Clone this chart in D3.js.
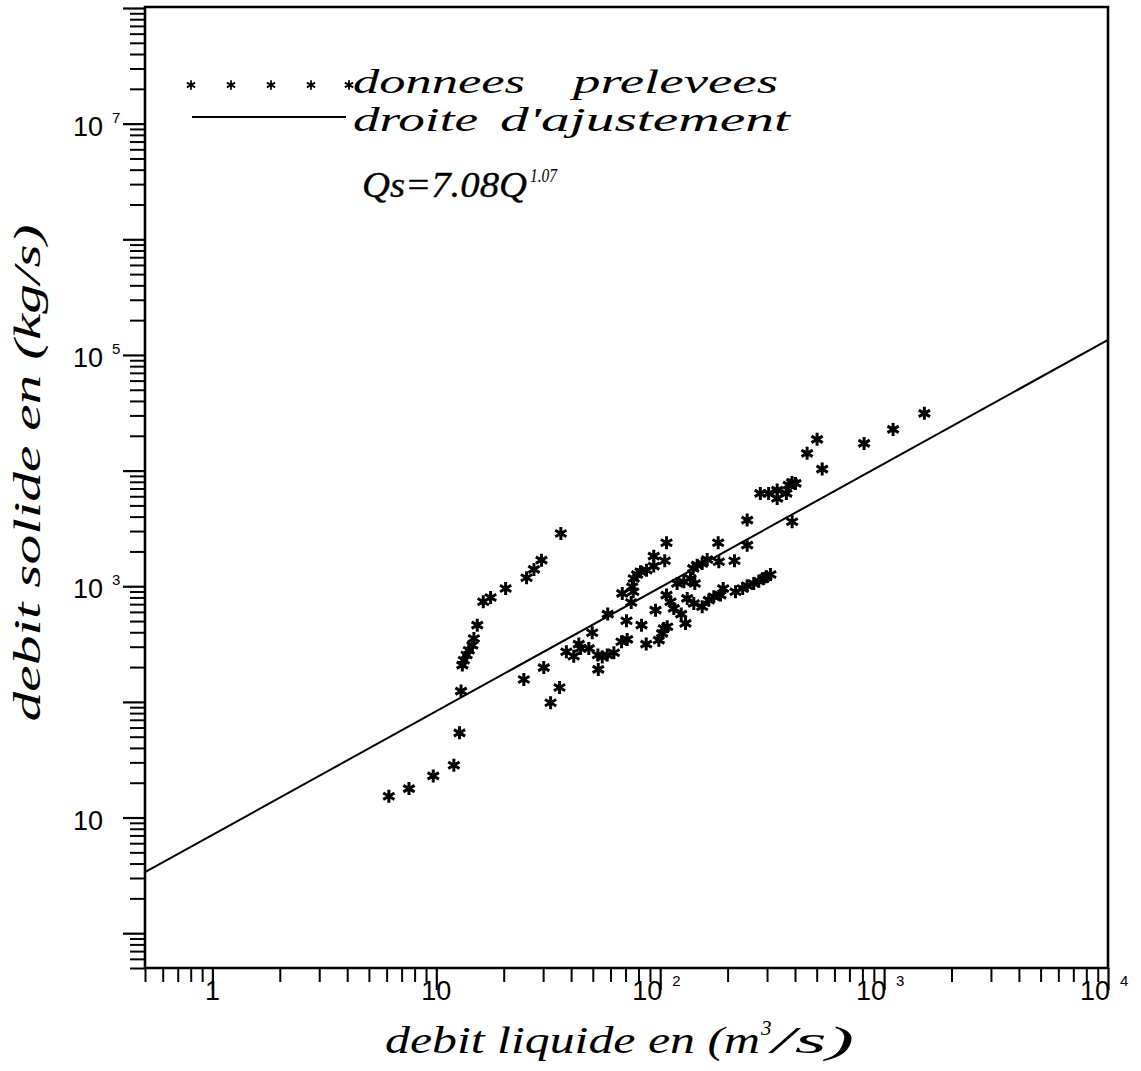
<!DOCTYPE html>
<html>
<head>
<meta charset="utf-8">
<script src="https://cdn.jsdelivr.net/npm/d3@7"></script>
<style>
  html, body { margin: 0; padding: 0; background: #fff; }
  svg { display: block; }
</style>
</head>
<body>
<svg id="chart" width="1141" height="1071"></svg>
<script>
// Débit liquide Q (m3/s) des prélèvements
const debitLiquide = [
  6.14, 7.55, 9.69, 11.98, 12.7, 12.9,
  13.07, 13.28, 13.66, 13.98, 14.48, 14.72, 15.24, 16.21, 17.48, 20.4, 25.3, 27.3, 29.5, 36.0,
  24.6, 30.2, 32.4, 35.5, 38.1, 41.1, 43.3, 44.1, 48.0, 49.7, 52.7, 52.9, 55.1, 58.0, 62.1, 58.3,
  67.2, 71.2, 70.7, 67.7, 74.2, 75.8, 75.0, 76.2, 78.9, 81.7, 86.9, 93.6, 93.6, 104.8, 106.7,
  82.5, 86.6, 95.3, 98.6, 102, 103.8, 107.5, 106.7, 111.2, 115, 119, 124.1, 129.7, 132, 136.6,
  140.4, 142.7, 146.3, 154, 162.1, 182.7, 181.5, 214.7, 141.3, 154, 164.8, 173.5, 185.9, 191.1,
  216.9, 233.5, 244.6, 261.7, 275.5, 290, 298, 310.7, 244.6, 244.6, 388.4, 127.5,
  1513, 1097, 814, 502, 453, 529, 388, 402, 375, 366, 333, 333, 305, 280
];
// Débit solide Qs (kg/s) correspondant
const debitSolide = [
  15.3, 17.8, 22.9, 28.3, 54.0, 124,
  208, 229, 254, 280, 309, 353, 461, 734, 800, 957, 1185, 1398, 1682, 2862,
  156, 198, 98.2, 133, 271, 248, 316, 290, 290, 396, 254, 191, 245, 254, 266, 574,
  331, 347, 503, 867, 724, 896, 990, 1168, 1265, 1335, 1378, 1493, 1821, 1662, 2378,
  461, 316, 621, 342, 391, 431, 446, 838, 734, 643, 1057, 574, 477, 785, 1168,
  1426, 1057, 1522, 1574, 1705, 1629, 2378, 1662, 710, 665, 758, 811, 838, 957,
  896, 957, 1010, 1057, 1107, 1168, 1210, 1265, 2267, 3731, 3614, 1094,
  31250, 22720, 17190, 18620, 14090, 10300, 7904, 7749, 7491, 6350, 6781, 5748, 6350, 6350
];

// Droite d'ajustement Qs = a * Q^b
const ajustA = 7.08;
const ajustB = 1.07;

// Étiquettes des graduations principales (mantisse, exposant)
const xLabelValues = [1, 10, 100, 1000, 10000];
const xLabelBases  = ["1", "10", "10", "10", "10"];
const xLabelExps   = ["", "", "2", "3", "4"];
const yLabelValues = [10, 1000, 100000, 10000000];
const yLabelBases  = ["10", "10", "10", "10"];
const yLabelExps   = ["", "3", "5", "7"];

const xDomain = [0.5, 1e4];
const yDomain = [0.5, 1e8];

const legendItems = ["donnees", "prelevees", "droite", "d'ajustement"];

const svg = d3.select("#chart");
const plot = { left: 145, right: 1108, top: 7, bottom: 968 };

const x = d3.scaleLog().domain(xDomain).range([plot.left, plot.right]);
const y = d3.scaleLog().domain(yDomain).range([plot.bottom, plot.top + 1]);

const isMajor = v => Math.abs(Math.log10(v) - Math.round(Math.log10(v))) < 1e-9;

const serif = "'Liberation Serif', 'Times New Roman', serif";
const sans = "'Liberation Sans', Arial, sans-serif";

// Graduations de l'axe horizontal
const xTicks = x.ticks();
svg.append("g")
  .attr("transform", `translate(0,${plot.bottom})`)
  .call(d3.axisBottom(x).tickValues(xTicks.filter(v => !isMajor(v))).tickSize(14).tickFormat(""))
  .call(g => g.select(".domain").remove())
  .call(g => g.selectAll("line").attr("stroke", "#000").attr("stroke-width", 2));
svg.append("g")
  .attr("transform", `translate(0,${plot.bottom})`)
  .call(d3.axisBottom(x).tickValues(xTicks.filter(isMajor)).tickSize(22).tickFormat(""))
  .call(g => g.select(".domain").remove())
  .call(g => g.selectAll("line").attr("stroke", "#000").attr("stroke-width", 2.2));

// Graduations de l'axe vertical
const yTicks = y.ticks();
svg.append("g")
  .attr("transform", `translate(${plot.left},0)`)
  .call(d3.axisLeft(y).tickValues(yTicks.filter(v => !isMajor(v))).tickSize(15).tickFormat(""))
  .call(g => g.select(".domain").remove())
  .call(g => g.selectAll("line").attr("stroke", "#000").attr("stroke-width", 2));
svg.append("g")
  .attr("transform", `translate(${plot.left},0)`)
  .call(d3.axisLeft(y).tickValues(yTicks.filter(isMajor)).tickSize(22).tickFormat(""))
  .call(g => g.select(".domain").remove())
  .call(g => g.selectAll("line").attr("stroke", "#000").attr("stroke-width", 2.2));

// Cadre
svg.append("path")
  .attr("d", `M${plot.left},${plot.top}H${plot.right}V${plot.bottom}H${plot.left}Z`)
  .attr("fill", "none")
  .attr("stroke", "#000")
  .attr("stroke-width", 2.6);

// Étiquettes des puissances de dix
const xl = svg.append("g").attr("font-family", sans).attr("fill", "#000");
xLabelValues.forEach((v, i) => {
  const px = x(v);
  if (xLabelExps[i] === "") {
    xl.append("text").attr("x", px).attr("y", 1000)
      .attr("text-anchor", "middle").attr("font-size", 27).text(xLabelBases[i]);
  } else {
    xl.append("text").attr("x", px + 2).attr("y", 1000)
      .attr("text-anchor", "end").attr("font-size", 27).text(xLabelBases[i]);
    xl.append("text").attr("x", px + 12).attr("y", 986)
      .attr("text-anchor", "start").attr("font-size", 15).text(xLabelExps[i]);
  }
});

const yl = svg.append("g").attr("font-family", sans).attr("fill", "#000");
yLabelValues.forEach((v, i) => {
  const py = y(v);
  yl.append("text").attr("x", 103).attr("y", py + 12)
    .attr("text-anchor", "end").attr("font-size", 27).text(yLabelBases[i]);
  if (yLabelExps[i] !== "") {
    yl.append("text").attr("x", 112).attr("y", py - 1)
      .attr("text-anchor", "start").attr("font-size", 15).text(yLabelExps[i]);
  }
});

// Droite d'ajustement
const fitLine = d3.line().x(d => x(d)).y(d => y(ajustA * Math.pow(d, ajustB)));
svg.append("path")
  .attr("d", fitLine(xDomain))
  .attr("fill", "none")
  .attr("stroke", "#000")
  .attr("stroke-width", 2);

// Symbole astérisque à six branches
function asterisk(r) {
  const p = d3.path();
  [90, 30, 150].forEach(a => {
    const t = a * Math.PI / 180;
    p.moveTo(-r * Math.cos(t), -r * Math.sin(t));
    p.lineTo(r * Math.cos(t), r * Math.sin(t));
  });
  return p.toString();
}

const points = debitLiquide.map((q, i) => ({ q, qs: debitSolide[i] }));
svg.append("g")
  .selectAll("path")
  .data(points)
  .join("path")
  .attr("transform", d => `translate(${x(d.q)},${y(d.qs)})`)
  .attr("d", asterisk(6.5))
  .attr("fill", "none")
  .attr("stroke", "#000")
  .attr("stroke-width", 3)
  .attr("stroke-linecap", "butt");

// Légende
const legend = svg.append("g")
  .attr("font-family", serif).attr("font-style", "italic")
  .attr("fill", "#000");
[191, 231, 271, 311, 349].forEach(lx => {
  legend.append("path")
    .attr("transform", `translate(${lx},85)`)
    .attr("d", asterisk(4.8))
    .attr("fill", "none").attr("stroke", "#000").attr("stroke-width", 1.8);
});
legend.append("line")
  .attr("x1", 192).attr("x2", 346).attr("y1", 117).attr("y2", 117)
  .attr("stroke", "#000").attr("stroke-width", 2);

legend.append("text").attr("x", 353).attr("y", 93).attr("font-size", 34)
  .attr("textLength", 172).attr("lengthAdjust", "spacingAndGlyphs").text(legendItems[0]);
legend.append("text").attr("x", 573).attr("y", 93).attr("font-size", 34)
  .attr("textLength", 205).attr("lengthAdjust", "spacingAndGlyphs").text(legendItems[1]);
legend.append("text").attr("x", 353).attr("y", 131).attr("font-size", 34)
  .attr("textLength", 125).attr("lengthAdjust", "spacingAndGlyphs").text(legendItems[2]);
legend.append("text").attr("x", 500).attr("y", 131).attr("font-size", 34)
  .attr("textLength", 290).attr("lengthAdjust", "spacingAndGlyphs").text(legendItems[3]);

// Équation de la droite
legend.append("text").attr("x", 362).attr("y", 197).attr("font-size", 35)
  .attr("stroke", "#000").attr("stroke-width", 0.3)
  .attr("textLength", 165).attr("lengthAdjust", "spacingAndGlyphs")
  .text(`Qs=${ajustA.toFixed(2)}Q`);
legend.append("text").attr("x", 530).attr("y", 182).attr("font-size", 19)
  .attr("textLength", 27).attr("lengthAdjust", "spacingAndGlyphs")
  .text(ajustB.toFixed(2));

// Titres des axes
const titles = svg.append("g")
  .attr("font-family", serif).attr("font-style", "italic")
  .attr("fill", "#000");
titles.append("text").attr("x", 385).attr("y", 1053).attr("font-size", 38)
  .attr("textLength", 375).attr("lengthAdjust", "spacingAndGlyphs")
  .text("debit liquide en (m");
titles.append("text").attr("x", 761).attr("y", 1035).attr("font-size", 21)
  .text("3");
titles.append("text").attr("x", 772).attr("y", 1053).attr("font-size", 38)
  .attr("textLength", 82).attr("lengthAdjust", "spacingAndGlyphs")
  .text("/s)");

titles.append("text")
  .attr("transform", "translate(40,473) rotate(-90)")
  .attr("text-anchor", "middle").attr("font-size", 38)
  .attr("textLength", 497).attr("lengthAdjust", "spacingAndGlyphs")
  .text("debit solide en (kg/s)");
</script>
</body>
</html>
